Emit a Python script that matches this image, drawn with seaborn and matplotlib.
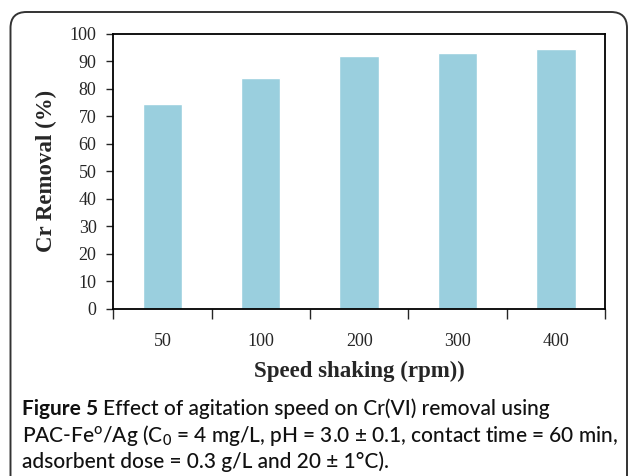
import pandas as pd
import matplotlib.pyplot as plt
import seaborn as sns
from matplotlib.patches import FancyBboxPatch

# Data
speeds = ["50", "100", "200", "300", "400"]
removal = [74.5, 84, 92, 93, 94.5]

sns.set_style("white")
plt.rcParams['font.family'] = ['Liberation Serif', 'DejaVu Serif']
plt.rcParams['mathtext.fontset'] = 'custom'
plt.rcParams['mathtext.rm'] = 'Lato:medium'
plt.rcParams['mathtext.it'] = 'Lato:italic'
plt.rcParams['mathtext.bf'] = 'Lato:bold'

df = pd.DataFrame({"speed": speeds, "removal": removal})

fig = plt.figure(figsize=(6.29, 4.76), dpi=100)
ax = fig.add_axes([0.18, 0.351, 0.782, 0.578])

sns.barplot(data=df, x="speed", y="removal", order=speeds, color="#9acfde",
            saturation=1, width=0.4, ax=ax)

ax.set_ylim(0, 100)
ax.set_xlim(-0.5, 4.5)
ax.set_yticks(range(0, 101, 10))
ax.tick_params(axis="y", direction="out", length=5, width=1, pad=7,
               labelsize=13, left=True)
ax.tick_params(axis="x", which="major", length=0, pad=17, labelsize=13)
ax.set_xticks([i - 0.5 for i in range(6)], minor=True)
ax.tick_params(axis="x", which="minor", direction="out", length=7, width=1,
               bottom=True)
for s in ax.spines.values():
    s.set_color("black")
    s.set_linewidth(1.3)

ax.set_xlabel("Speed shaking (rpm))", fontsize=16.5, fontweight="bold", labelpad=8)
ax.set_ylabel("Cr Removal (%)", fontsize=16.5, fontweight="bold", labelpad=9)

# rounded frame around the figure
frame = FancyBboxPatch((0.105, -0.5), 6.165, 5.14,
                       boxstyle="round,pad=0,rounding_size=0.16",
                       transform=fig.dpi_scale_trans, fill=False,
                       edgecolor="#333333", linewidth=1.4, clip_on=False)
fig.patches.append(frame)

# caption
cap_font = ['Lato', 'DejaVu Sans']
cap_size = 15
cap_color = "#111111"
x0 = 22 / 629
lines_y = [1 - 409 / 476, 1 - 436 / 476, 1 - 462 / 476]
t = fig.text(x0, lines_y[0], "Figure 5", family=cap_font, fontsize=cap_size,
             fontweight="bold", va="center", color=cap_color)
fig.canvas.draw()
bb = t.get_window_extent()
fig.text(bb.x1 / fig.bbox.width + 0.008, lines_y[0],
         "Effect of agitation speed on Cr(VI) removal using",
         family=cap_font, fontsize=cap_size, fontweight="medium", va="center", color=cap_color)
fig.text(x0, lines_y[1],
         r"PAC-Fe$^{\mathrm{o}}$/Ag (C$_{\mathrm{0}}$ = 4 mg/L, pH = 3.0 ± 0.1, contact time = 60 min,",
         family=cap_font, fontsize=cap_size, fontweight="medium", va="center", color=cap_color)
fig.text(x0, lines_y[2],
         "adsorbent dose = 0.3 g/L and 20 ± 1°C).",
         family=cap_font, fontsize=cap_size, fontweight="medium", va="center", color=cap_color)

fig.savefig("out.png", dpi=100)
